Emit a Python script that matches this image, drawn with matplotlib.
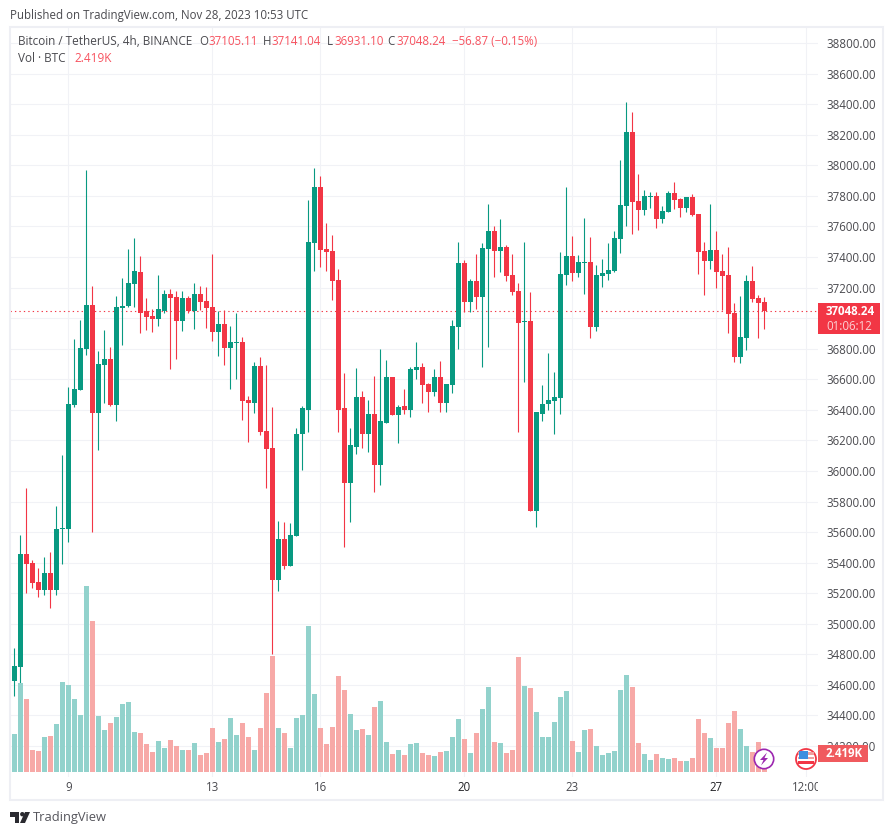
import matplotlib
matplotlib.use('Agg')
import matplotlib.pyplot as plt
import numpy as np
from matplotlib.patches import Rectangle, Circle, Polygon
from matplotlib.transforms import Bbox, TransformedBbox

plt.rcParams['font.family'] = ['Open Sans', 'DejaVu Sans']

nan = float('nan')

# first candle is hidden under the frame, only its volume bar shows
opens = [nan,
    34626, 34718, 35457, 35398, 35274, 35222, 35333, 35222, 35621, 35621,
    36433, 36531, 36799, 37087, 36380, 36695, 36734, 36433, 37068, 37080,
    37224, 37302, 37047, 37012, 36993, 37047, 37156, 37137, 36983, 37130,
    37047, 37156, 37110, 37071, 36911, 36963, 36806, 36839, 36845, 36465,
    36446, 36688, 36262, 36151, 35287, 35556, 35379, 35575, 36239, 36402,
    37492, 37858, 37452, 37439, 37249, 36409, 35918, 36160, 36484, 36239,
    36376, 36042, 36317, 36614, 36369, 36422, 36402, 36660, 36680, 36569,
    36516, 36614, 36444, 36562, 36942, 37361, 37105, 37243, 37138, 37452,
    37570, 37439, 37465, 37282, 37177, 36974, 36981, 35741, 36376, 36435,
    36461, 36475, 37282, 37407, 37296, 37361, 37368, 36942, 37276, 37289,
    37309, 37518, 37734, 38219, 37767, 37708, 37793, 37800, 37649, 37695,
    37820, 37780, 37721, 37793, 37682, 37440, 37374, 37446, 37309, 37283,
    37034, 36746, 36870, 37244, 37132, 37105.11]
highs = [nan,
    34842, 35582, 35889, 35418, 35366, 35438, 35470, 35772, 36105, 36551,
    36865, 36989, 37970, 37211, 36786, 36924, 36812, 37145, 37263, 37453,
    37525, 37407, 37135, 37058, 37281, 37183, 37189, 37178, 37178, 37145,
    37228, 37211, 37206, 37420, 37048, 37055, 36950, 37035, 36878, 36492,
    36714, 36747, 36695, 36420, 35673, 35667, 35660, 36282, 36422, 37773,
    37983, 37930, 37623, 37544, 37321, 36641, 36278, 36673, 36523, 36464,
    36621, 36798, 36726, 36614, 36431, 36536, 36680, 36844, 36706, 36575,
    36667, 36719, 36569, 36988, 37498, 37380, 37256, 37420, 37492, 37747,
    37603, 37649, 37479, 37420, 37230, 37498, 37171, 36383, 36562, 36772,
    36648, 37433, 37858, 37538, 37414, 37656, 37532, 37348, 37388, 37492,
    37571, 38036, 38415, 38350, 37944, 37839, 37826, 37826, 37734, 37833,
    37892, 37787, 37793, 37813, 37682, 37499, 37748, 37571, 37420, 37466,
    37100, 37145, 37282, 37342, 37152, 37141.04]
lows = [nan,
    34528, 34561, 35204, 35235, 35172, 35189, 35104, 35189, 35392, 35536,
    36420, 36531, 36760, 35601, 36138, 36446, 36426, 36328, 36825, 37070,
    37074, 36904, 36924, 36911, 36950, 37035, 36668, 36734, 36917, 37032,
    36930, 37055, 36937, 36852, 36753, 36695, 36537, 36603, 36334, 36190,
    36380, 36236, 35889, 34803, 35215, 35359, 35379, 35575, 36009, 36258,
    37308, 37334, 37308, 37118, 36258, 35505, 35669, 36108, 36147, 36127,
    35865, 35911, 36311, 36363, 36180, 36376, 36350, 36601, 36444, 36389,
    36490, 36389, 36389, 36510, 36798, 37040, 37040, 37060, 36680, 36811,
    37269, 37302, 37243, 37151, 36252, 36582, 35741, 35636, 36330, 36396,
    36245, 36376, 37217, 37244, 37270, 37158, 36870, 36916, 37204, 37250,
    37302, 37427, 37604, 37551, 37577, 37676, 37721, 37590, 37623, 37695,
    37715, 37662, 37695, 37669, 37289, 37152, 37322, 37198, 37054, 36903,
    36713, 36707, 36792, 37106, 36870, 36931.10]
closes = [nan,
    34724, 35457, 35392, 35267, 35222, 35333, 35222, 35621, 35628, 36439,
    36537, 36806, 37087, 36380, 36701, 36734, 36433, 37074, 37081, 37228,
    37307, 37035, 37008, 36993, 37058, 37156, 37130, 36983, 37130, 37047,
    37156, 37106, 37067, 36911, 36963, 36806, 36845, 36845, 36459, 36446,
    36688, 36256, 36145, 35287, 35556, 35379, 35582, 36243, 36409, 37498,
    37858, 37446, 37433, 37243, 36402, 35918, 36167, 36484, 36239, 36376,
    36042, 36324, 36614, 36369, 36418, 36402, 36667, 36680, 36562, 36516,
    36614, 36444, 36569, 36948, 37361, 37105, 37243, 37138, 37459, 37570,
    37439, 37465, 37276, 37171, 36968, 36981, 35741, 36383, 36441, 36464,
    36487, 37289, 37406, 37296, 37368, 37368, 36942, 37283, 37296, 37316,
    37525, 37741, 38219, 37761, 37708, 37800, 37800, 37649, 37702, 37820,
    37774, 37721, 37793, 37676, 37433, 37374, 37446, 37302, 37276, 37028,
    36746, 36877, 37244, 37126, 37099, 37048.24]
# volume in thousands of BTC
volumes = [
    6.05, 5.11, 11.96, 9.81, 2.96, 2.82, 4.70, 4.84, 6.45, 12.10, 11.69,
    9.81, 7.66, 25.00, 20.29, 7.53, 5.64, 6.59, 7.39, 9.14, 9.41,
    5.38, 5.24, 3.76, 2.69, 4.17, 3.23, 4.30, 3.49, 2.96, 2.96,
    3.90, 2.28, 2.55, 5.91, 4.03, 4.44, 7.26, 4.97, 6.59, 4.70,
    2.96, 5.91, 10.62, 15.59, 5.91, 5.24, 3.23, 7.26, 7.66, 19.62,
    10.48, 5.91, 3.76, 6.05, 12.90, 11.02, 7.80, 5.64, 5.78, 4.97,
    8.74, 9.54, 4.03, 2.42, 2.96, 2.28, 3.76, 3.90, 2.55, 2.28,
    2.15, 2.69, 2.82, 4.70, 7.12, 4.44, 2.55, 5.24, 8.47, 11.42,
    4.03, 3.90, 2.55, 2.96, 15.46, 11.56, 11.29, 8.06, 4.70, 4.70,
    6.72, 10.08, 10.89, 4.17, 2.69, 5.64, 5.78, 3.49, 2.28, 2.55,
    2.82, 11.02, 13.04, 11.42, 3.90, 2.42, 1.61, 2.42, 1.88, 1.75,
    1.88, 1.48, 1.48, 1.88, 7.12, 5.24, 4.57, 3.23, 3.23, 6.59,
    8.20, 5.78, 3.49, 2.69, 4.03, 2.419]

price_ticks = list(range(34200, 39000, 200))
date_ticks = [10, 34, 52, 76, 94, 118, 133]
date_labels = ['9', '13', '16', '20', '23', '27', '12:00']

GREEN = '#089981'
RED = '#f23645'
VOL_GREEN = '#92d2cc'
VOL_RED = '#f7a9a7'
GRID = '#f1f2f6'
TEXT = '#4a4a4f'
FRAME = '#eeeff4'
W, H = 894, 835

idx = np.arange(len(opens))
o = np.array(opens)
h = np.array(highs)
l = np.array(lows)
c = np.array(closes)
up = c >= o

fig = plt.figure(figsize=(W / 100, H / 100), dpi=100, facecolor='white')
ax = fig.add_axes((10 / W, 1 - 777 / H, 808 / W, 749 / H))
ax.set_xlim(0.283, 134.95)
ax.set_ylim(33997, 38899)
ax.set_axisbelow(True)
ax.grid(True, color=GRID, linewidth=0.75)
for s in ax.spines.values():
    s.set_visible(False)

ax.axhline(closes[-1], color=RED, linewidth=0.8, linestyle=(0, (1.2, 2.8)), zorder=1.5)

colors = [GREEN if u else RED for u in up]
ax.vlines(idx, l, h, colors=colors, linewidth=0.8, zorder=2)
ax.bar(idx, np.abs(c - o), bottom=np.minimum(o, c), width=0.83, color=colors,
       linewidth=0, zorder=3)

axv = ax.twinx()
axv.set_ylim(-0.672, 100)
axv.yaxis.set_visible(False)
axv.patch.set_visible(False)
for s in axv.spines.values():
    s.set_visible(False)
vol_colors = [VOL_GREEN if u else VOL_RED for u in up]
axv.bar(idx, volumes, width=0.8, color=vol_colors, linewidth=0)

# twinx pulls the price scale to the left, so set it up afterwards
ax.yaxis.tick_right()
ax.set_yticks(price_ticks)
ax.set_yticklabels(['%.2f' % p for p in price_ticks], fontsize=8.3, color=TEXT)
ax.set_xticks(date_ticks)
ax.set_xticklabels(date_labels, fontsize=8.3, color=TEXT)
ax.tick_params(axis='y', length=0, pad=6.3)
ax.tick_params(axis='x', length=0, pad=3)
# last time label gets cut by the price scale
clip = TransformedBbox(Bbox([[0, 0], [818 / W, 1]]), fig.transFigure)
for lab in ax.get_xticklabels():
    lab.set_clip_box(clip)
    lab.set_clip_on(True)
    if lab.get_text() in ('20', '27'):
        lab.set_color('#222226')

# page furniture in pixel coordinates
ov = fig.add_axes((0, 0, 1, 1))
ov.set_xlim(0, W)
ov.set_ylim(H, 0)
ov.axis('off')
ov.patch.set_visible(False)

ov.add_patch(Rectangle((10, 27), 873, 773, fill=False, edgecolor=FRAME, linewidth=1.5))

ov.text(10, 15, 'Published on TradingView.com, Nov 28, 2023 10:53 UTC', fontsize=8.3,
        color=TEXT, va='center')
ov.text(18, 41.5, 'Bitcoin / TetherUS, 4h, BINANCE', fontsize=8.5, color=TEXT, va='center')
ov.text(18, 59, 'Vol · BTC', fontsize=8.5, color=TEXT, va='center')
ov.text(74, 59, '2.419K', fontsize=8.5, color='#f7525f', va='center')
for lx, vx, name, val in [(199, 208, 'O', '37105.11'), (263, 271.5, 'H', '37141.04'),
                          (327, 334, 'L', '36931.10'), (387, 396, 'C', '37048.24')]:
    ov.text(lx, 41.5, name, fontsize=8.3, color=TEXT, va='center')
    ov.text(vx, 41.5, val, fontsize=8.3, color='#f7525f', va='center')
ov.text(452, 41.5, '\u221256.87 (\u22120.15%)', fontsize=8.3, color='#f7525f', va='center')

# last price and volume tags
ov.add_patch(Rectangle((818, 303), 62, 31, color=RED, linewidth=0))
ov.text(826, 311.5, '37048.24', fontsize=8.3, color='white', va='center', fontweight='bold')
ov.text(826, 326, '01:06:12', fontsize=8.3, color='#fbd0d4', va='center')
ov.add_patch(Rectangle((818, 745), 50, 17, color='#f05a5e', linewidth=0))
ov.text(826, 753.5, '2.419K', fontsize=8.3, color='white', va='center', fontweight='bold')

# event icons on the time line
ov.add_patch(Circle((764, 759), 9.7, facecolor='white', edgecolor='#9c27b0', linewidth=1.2))
ov.add_patch(Polygon([(767, 752.5), (760, 760), (763.5, 760), (761, 765.5), (768, 758),
                      (764.5, 758)], color='#9c27b0', linewidth=0))
ov.add_patch(Circle((806, 759), 10, facecolor='white', edgecolor=RED, linewidth=1.3))
ov.add_patch(Rectangle((798, 752), 16, 3, color='#f0a0a0', linewidth=0))
ov.add_patch(Rectangle((798, 757), 16, 2, color='#f0a0a0', linewidth=0))
ov.add_patch(Rectangle((798, 761), 16, 3, color=RED, linewidth=0))
ov.add_patch(Rectangle((798.5, 751), 9.5, 8, color='#3d8ee0', linewidth=0))

# TradingView logo
logo = '#2a2a30'
ov.add_patch(Polygon([(10, 812), (19, 812), (19, 823), (14.5, 823), (14.5, 816.5), (10, 816.5)],
                     color=logo, linewidth=0))
ov.add_patch(Circle((22.3, 814.2), 2.2, color=logo, linewidth=0))
ov.add_patch(Polygon([(25, 812), (30, 812), (25, 823), (20, 823)], color=logo, linewidth=0))
ov.text(33, 817.5, 'TradingView', fontsize=9.3, color='#55555c', va='center')

fig.savefig('out.png', dpi=100, facecolor='white')
